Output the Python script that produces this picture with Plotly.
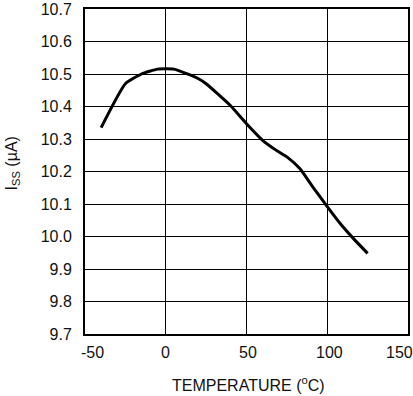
import plotly.graph_objects as go

temperature = [-40, -25, -15, -5, 5, 15, 20, 25, 40, 50, 60, 68.5, 75, 83, 91, 100, 108, 116, 125]
iss_ua = [10.335, 10.47, 10.50, 10.515, 10.515, 10.497, 10.486, 10.47, 10.403, 10.347, 10.296, 10.265, 10.245, 10.209, 10.153, 10.092, 10.04, 9.995, 9.948]

x_ticks = [-50, 0, 50, 100, 150]
x_tick_labels = ["-50", "0", "50", "100", "150"]
y_ticks = [9.7, 9.8, 9.9, 10.0, 10.1, 10.2, 10.3, 10.4, 10.5, 10.6, 10.7]
y_tick_labels = ["9.7", "9.8", "9.9", "10.0", "10.1", "10.2", "10.3", "10.4", "10.5", "10.6", "10.7"]
x_title = "TEMPERATURE (<sup>o</sup>C)"
y_title = "I<sub>SS</sub> (µA)"

# small horizontal nudges so the edge labels stay inside the picture
x_label_shift = [7, 0, 1, 2, -9]

fig = go.Figure()
fig.add_trace(go.Scatter(
    x=temperature, y=iss_ua, mode="lines",
    line=dict(color="black", width=3, shape="spline", smoothing=0.5),
    showlegend=False, hoverinfo="skip",
))

font = dict(family="Liberation Sans, Arial, sans-serif", size=16, color="#111")

fig.update_layout(
    width=413, height=396,
    margin=dict(l=85, r=5, t=9, b=62),
    plot_bgcolor="white", paper_bgcolor="white",
    font=font,
    xaxis=dict(
        range=[-50, 150], tickvals=x_ticks, showticklabels=False,
        showgrid=True, gridcolor="black", gridwidth=1,
        showline=True, linecolor="black", linewidth=2, mirror=True,
        zeroline=False, automargin=False,
    ),
    yaxis=dict(
        range=[9.7, 10.7], tickvals=y_ticks, ticktext=y_tick_labels,
        showgrid=True, gridcolor="black", gridwidth=1,
        showline=True, linecolor="black", linewidth=2, mirror=True,
        ticks="outside", ticklen=8, tickcolor="rgba(0,0,0,0)",
        ticklabeloverflow="allow",
        zeroline=False, automargin=False,
    ),
)

for v, lab, sh in zip(x_ticks, x_tick_labels, x_label_shift):
    fig.add_annotation(
        x=v, xref="x", y=0, yref="paper", text=lab, showarrow=False,
        xanchor="center", yanchor="middle", xshift=sh, yshift=-18.5,
        font=font,
    )

fig.add_annotation(
    x=0.5, xref="paper", y=0, yref="paper", text=x_title, showarrow=False,
    xanchor="center", yanchor="middle", xshift=2, yshift=-50, font=font,
)
fig.add_annotation(
    x=0, xref="paper", y=0.5, yref="paper", text=y_title, showarrow=False,
    xanchor="center", yanchor="middle", xshift=-73, yshift=8, textangle=-90,
    font=font,
)

fig.write_html("out.html", config={"displayModeBar": False},
               post_script="document.body.style.margin='0';")
